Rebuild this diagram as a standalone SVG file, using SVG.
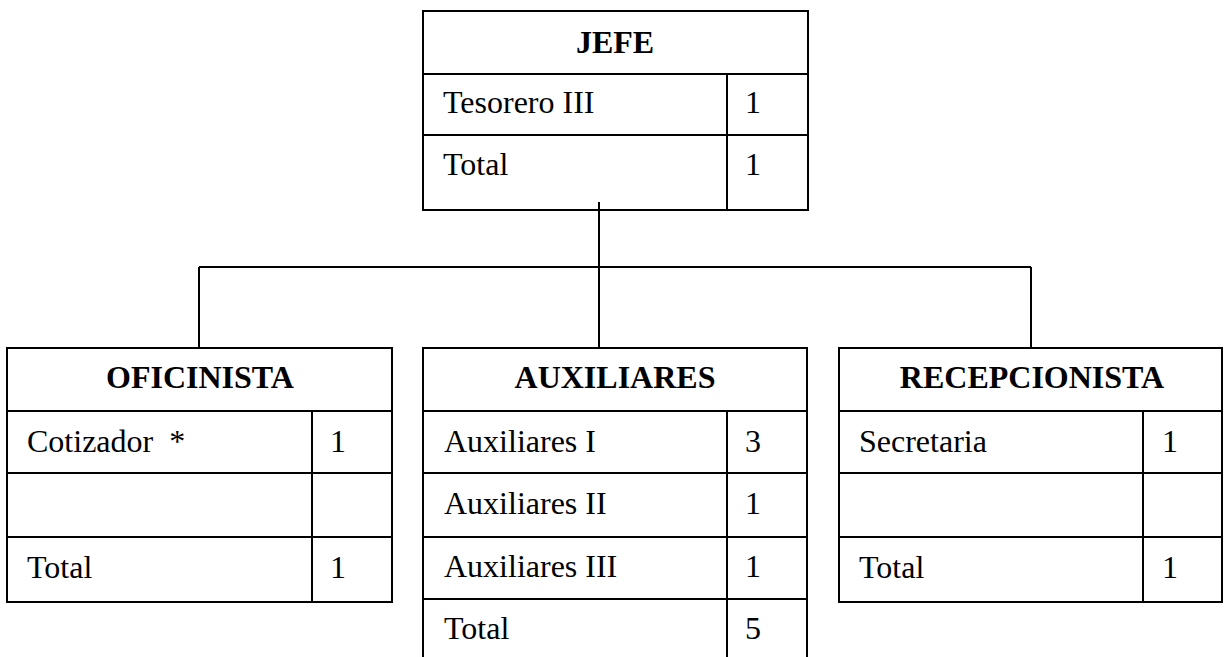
<svg xmlns="http://www.w3.org/2000/svg" width="1225" height="657" viewBox="0 0 1225 657">
  <style>
    .ln { stroke: #000; stroke-width: 2; fill: none; }
    .box { stroke: #000; stroke-width: 2; fill: #fff; }
    text { font-family: "Liberation Serif", "Times New Roman", serif; font-size: 32px; fill: #000; }
    .ttl { font-weight: bold; text-anchor: middle; }
    .num { text-anchor: middle; }
  </style>
  <rect width="1225" height="657" fill="#fff"/>

  <!-- connectors -->
  <g id="connectors" class="ln">
    <line x1="599" y1="202" x2="599" y2="348"/>
    <line x1="199" y1="267" x2="1031" y2="267"/>
    <line x1="199" y1="267" x2="199" y2="348"/>
    <line x1="1031" y1="267" x2="1031" y2="348"/>
  </g>

  <!-- top node -->
  <g id="jefe">
    <rect class="box" x="423" y="11" width="385" height="199"/>
    <line class="ln" x1="423" y1="74" x2="808" y2="74"/>
    <line class="ln" x1="423" y1="135" x2="808" y2="135"/>
    <line class="ln" x1="727" y1="74" x2="727" y2="210"/>
    <text class="ttl" x="615" y="53">JEFE</text>
    <text x="443" y="113">Tesorero III</text>
    <text class="num" x="753" y="113">1</text>
    <text x="443" y="175">Total</text>
    <text class="num" x="753" y="175">1</text>
  </g>
  <line class="ln" x1="599" y1="202" x2="599" y2="210"/>

  <!-- left node -->
  <g id="oficinista">
    <rect class="box" x="7" y="348" width="385" height="254"/>
    <line class="ln" x1="7" y1="411" x2="392" y2="411"/>
    <line class="ln" x1="7" y1="473" x2="392" y2="473"/>
    <line class="ln" x1="7" y1="537" x2="392" y2="537"/>
    <line class="ln" x1="312" y1="411" x2="312" y2="602"/>
    <text class="ttl" x="200" y="388">OFICINISTA</text>
    <text x="27" y="452" xml:space="preserve">Cotizador  *</text>
    <text class="num" x="338" y="452">1</text>
    <text x="27" y="578">Total</text>
    <text class="num" x="338" y="578">1</text>
  </g>

  <!-- middle node (continues past the lower edge) -->
  <g id="auxiliares">
    <rect x="423" y="348" width="384" height="320" fill="#fff"/>
    <path class="ln" d="M423 660 V348 H807 V660"/>
    <line class="ln" x1="423" y1="411" x2="807" y2="411"/>
    <line class="ln" x1="423" y1="473" x2="807" y2="473"/>
    <line class="ln" x1="423" y1="537" x2="807" y2="537"/>
    <line class="ln" x1="423" y1="599" x2="807" y2="599"/>
    <line class="ln" x1="727" y1="411" x2="727" y2="660"/>
    <text class="ttl" x="615" y="388">AUXILIARES</text>
    <text x="444" y="452">Auxiliares I</text>
    <text class="num" x="753" y="452">3</text>
    <text x="444" y="514">Auxiliares II</text>
    <text class="num" x="753" y="514">1</text>
    <text x="444" y="577">Auxiliares III</text>
    <text class="num" x="753" y="577">1</text>
    <text x="444" y="639">Total</text>
    <text class="num" x="753" y="639">5</text>
  </g>
  <line class="ln" x1="599" y1="340" x2="599" y2="348"/>

  <!-- right node -->
  <g id="recepcionista">
    <rect class="box" x="839" y="348" width="383" height="254"/>
    <line class="ln" x1="839" y1="411" x2="1222" y2="411"/>
    <line class="ln" x1="839" y1="473" x2="1222" y2="473"/>
    <line class="ln" x1="839" y1="537" x2="1222" y2="537"/>
    <line class="ln" x1="1143" y1="411" x2="1143" y2="602"/>
    <text class="ttl" x="1032" y="388">RECEPCIONISTA</text>
    <text x="859" y="452">Secretaria</text>
    <text class="num" x="1170" y="452">1</text>
    <text x="859" y="578">Total</text>
    <text class="num" x="1170" y="578">1</text>
  </g>
</svg>
